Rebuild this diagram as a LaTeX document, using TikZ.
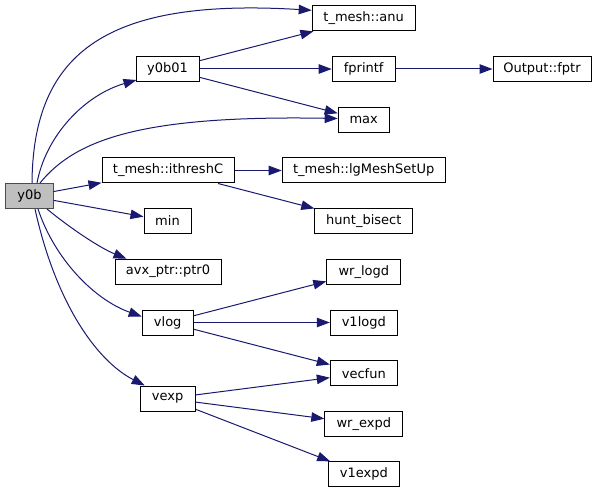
\documentclass[tikz,border=0pt]{standalone}
\usepackage{fontspec}
\setmainfont{DejaVu Sans}
\usetikzlibrary{arrows.meta,calc}
\definecolor{edgeblue}{HTML}{191970}
\definecolor{rootfill}{HTML}{BFBFBF}
\begin{document}
\begin{tikzpicture}[x=1bp,y=-1bp,
  box/.style={draw=black, line width=1bp, fill=white, inner sep=0pt,
    minimum height=25bp, font=\fontsize{13bp}{15bp}\selectfont},
  rootbox/.style={box, fill=rootfill, draw=black!70},
  call/.style={draw=edgeblue, line width=1bp, -{Triangle[length=13bp,width=9.5bp]}, shorten >=0pt}
]
\useasboundingbox (0,0) rectangle (597,493);
% nodes
\node[rootbox, minimum width=47bp] (y0b) at (29.5,196) {y0b};
\node[box, minimum width=63bp] (y0b01) at (167.5,69) {y0b01};
\node[box, minimum width=132bp] (ithr) at (168,170.5) {t\_mesh::ithreshC};
\node[box, minimum width=47bp] (min) at (167.5,221) {min};
\node[box, minimum width=106bp] (avx) at (168,271.7) {avx\_ptr::ptr0};
\node[box, minimum width=51bp] (vlog) at (167.7,322.5) {vlog};
\node[box, minimum width=55bp] (vexp) at (167.7,398.5) {vexp};
\node[box, minimum width=103bp] (anu) at (363.7,18.3) {t\_mesh::anu};
\node[box, minimum width=63bp] (fprintf) at (363.7,69) {fprintf};
\node[box, minimum width=98bp] (fptr) at (542,69) {Output::fptr};
\node[box, minimum width=51bp] (max) at (363.7,120) {max};
\node[box, minimum width=163bp] (lgm) at (363.7,170.5) {t\_mesh::lgMeshSetUp};
\node[box, minimum width=98bp] (hunt) at (363.8,221.3) {hunt\_bisect};
\node[box, minimum width=74bp] (wrlogd) at (363.8,271.7) {wr\_logd};
\node[box, minimum width=67bp] (vllogd) at (363.8,322.5) {v1logd};
\node[box, minimum width=67bp] (vecfun) at (363.8,373.3) {vecfun};
\node[box, minimum width=78bp] (wrexpd) at (363.8,423.8) {wr\_expd};
\node[box, minimum width=71bp] (vlexpd) at (363.8,474.3) {v1expd};
% curved edges from y0b
\draw[call] ($(y0b.north)+(2.5,0)$) .. controls (33,50) and (110,-2) .. ($(anu.west)+(0,-8)$);
\draw[call] ($(y0b.north)+(7.5,0)$) .. controls (46,135) and (85,95) .. ($(y0b01.south west)+(1,-2)$);
\draw[call] ($(y0b.north)+(10.5,0)$) .. controls (75,140) and (140,115) .. ($(max.west)+(0,-1.5)$);
\draw[call] ($(y0b.south)+(17.5,0)$) .. controls (70,228) and (100,248) .. ($(avx.north west)+(12,0)$);
\draw[call] ($(y0b.south)+(8.5,0)$) .. controls (55,260) and (95,300) .. ($(vlog.west)+(0,-6)$);
\draw[call] ($(y0b.south)+(5.5,0)$) .. controls (55,300) and (95,360) .. ($(vexp.north west)+(5,0)$);
% straight edges
\draw[call] (y0b) -- (ithr);
\draw[call] (y0b) -- (min);
\draw[call] (y0b01) -- (anu);
\draw[call] (y0b01) -- (fprintf);
\draw[call] (y0b01) -- (max);
\draw[call] (fprintf) -- (fptr);
\draw[call] (ithr) -- (lgm);
\draw[call] (ithr) -- (hunt);
\draw[call] (vlog) -- (wrlogd);
\draw[call] (vlog) -- (vllogd);
\draw[call] (vlog) -- (vecfun);
\draw[call] (vexp) -- (vecfun);
\draw[call] (vexp) -- (wrexpd);
\draw[call] (vexp) -- (vlexpd);
\end{tikzpicture}
\end{document}
